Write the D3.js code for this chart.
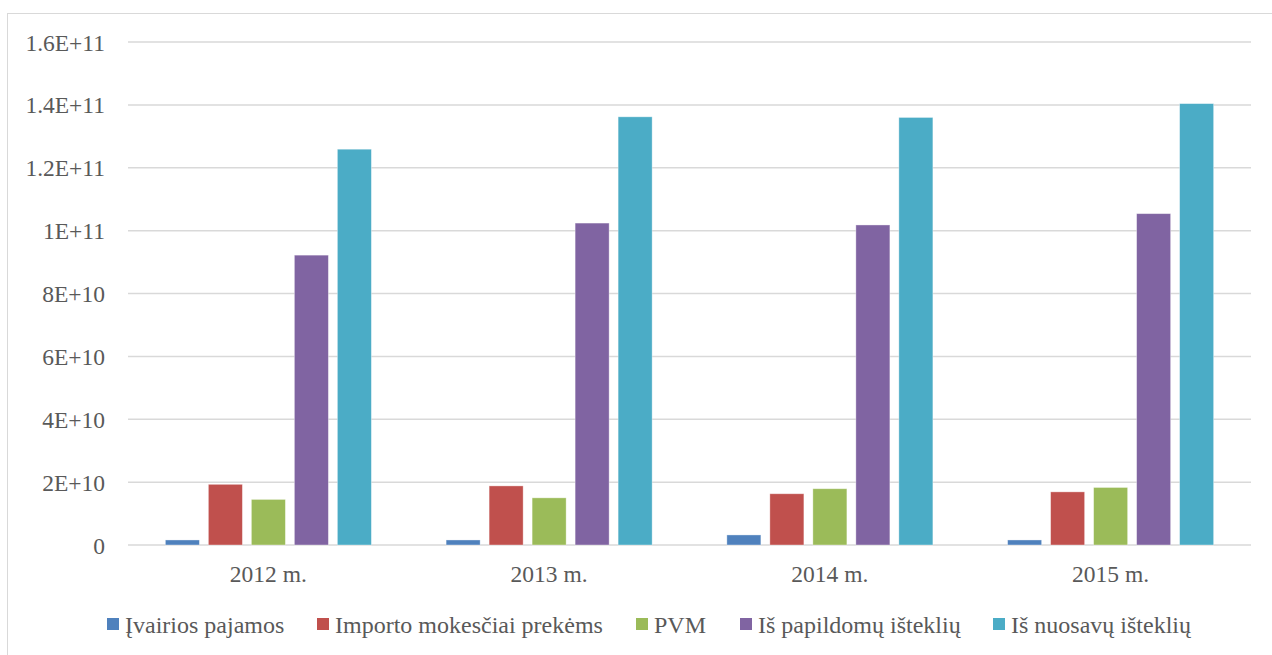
<!DOCTYPE html>
<html>
<head>
<meta charset="utf-8">
<script src="https://cdn.jsdelivr.net/npm/d3@7"></script>
<style>
  html, body { margin: 0; padding: 0; background: #fff; overflow: hidden; }
  svg { display: block; }
</style>
</head>
<body>
<svg id="chart" width="1272" height="655" font-family="'Liberation Serif', 'Times New Roman', Times, 'DejaVu Serif', serif"></svg>
<script>
// Years on the category axis
const years = ["2012 m.", "2013 m.", "2014 m.", "2015 m."];

// Revenue series (EUR)
const seriesNames = ["Įvairios pajamos", "Importo mokesčiai prekėms", "PVM", "Iš papildomų išteklių", "Iš nuosavų išteklių"];
const ivairiosPajamos = [1.6e9, 1.6e9, 3.2e9, 1.6e9];
const importoMokesciai = [1.93e10, 1.88e10, 1.63e10, 1.69e10];
const pvm = [1.45e10, 1.50e10, 1.79e10, 1.83e10];
const papildomuIstekliu = [9.22e10, 1.024e11, 1.018e11, 1.054e11];
const nuosavuIstekliu = [1.259e11, 1.362e11, 1.36e11, 1.404e11];
const seriesValues = [ivairiosPajamos, importoMokesciai, pvm, papildomuIstekliu, nuosavuIstekliu];
const seriesColors = ["#4F81BD", "#C0504D", "#9BBB59", "#8064A2", "#4BACC6"];

// Value axis ticks and their labels
const tickValues = [0, 2e10, 4e10, 6e10, 8e10, 1e11, 1.2e11, 1.4e11, 1.6e11];
const tickLabels = ["0", "2E+10", "4E+10", "6E+10", "8E+10", "1E+11", "1.2E+11", "1.4E+11", "1.6E+11"];

const svg = d3.select("#chart");
const textColor = "#595959";

// Chart frame
svg.append("rect")
  .attr("x", 7.5).attr("y", 13.5)
  .attr("width", 1290).attr("height", 700)
  .attr("fill", "#fff")
  .attr("stroke", "#d9d9d9")
  .attr("stroke-width", 1);

const plotLeft = 128, plotRight = 1251, plotTop = 42, plotBottom = 545;

const x = d3.scaleBand().domain(years).range([plotLeft, plotRight]).padding(0);
const xInner = d3.scaleBand().domain(seriesNames).range([0, x.bandwidth()])
  .paddingInner(0.209).paddingOuter(0.869);
const y = d3.scaleLinear().domain([0, 1.6e11]).range([plotBottom, plotTop]);

// Gridlines
svg.append("g")
  .selectAll("line")
  .data(tickValues)
  .join("line")
  .attr("x1", plotLeft).attr("x2", plotRight)
  .attr("y1", d => y(d)).attr("y2", d => y(d))
  .attr("stroke", "#d9d9d9")
  .attr("stroke-width", 1.5);

// Y axis labels
svg.append("g")
  .selectAll("text")
  .data(tickValues)
  .join("text")
  .attr("x", 105)
  .attr("y", d => y(d) + 8.5)
  .attr("text-anchor", "end")
  .attr("font-size", 23.5)
  .attr("fill", textColor)
  .text((d, i) => tickLabels[i]);

// Bars
const groups = svg.append("g")
  .selectAll("g")
  .data(years)
  .join("g")
  .attr("transform", d => `translate(${x(d)},0)`);

groups.selectAll("rect")
  .data((yr, yi) => seriesNames.map((s, si) => ({ s, si, v: seriesValues[si][yi] })))
  .join("rect")
  .attr("x", d => xInner(d.s))
  .attr("width", xInner.bandwidth())
  .attr("y", d => y(d.v))
  .attr("height", d => y(0) - y(d.v))
  .attr("fill", d => seriesColors[d.si])
  .attr("stroke", "#ffffff")
  .attr("stroke-opacity", 0.45)
  .attr("stroke-width", 0.8);

// Category labels
svg.append("g")
  .selectAll("text")
  .data(years)
  .join("text")
  .attr("x", d => x(d) + x.bandwidth() / 2)
  .attr("y", 582)
  .attr("text-anchor", "middle")
  .attr("font-size", 23.5)
  .attr("fill", textColor)
  .text(d => d);

// Legend
const legendX = [107, 317, 636, 740, 993];
const legend = svg.append("g")
  .selectAll("g")
  .data(seriesNames)
  .join("g")
  .attr("transform", (d, i) => `translate(${legendX[i]},618)`);

legend.append("rect")
  .attr("width", 12).attr("height", 12)
  .attr("fill", (d, i) => seriesColors[i]);

legend.append("text")
  .attr("x", 18)
  .attr("y", 14.5)
  .attr("font-size", 24)
  .attr("fill", textColor)
  .text(d => d);
</script>
</body>
</html>
